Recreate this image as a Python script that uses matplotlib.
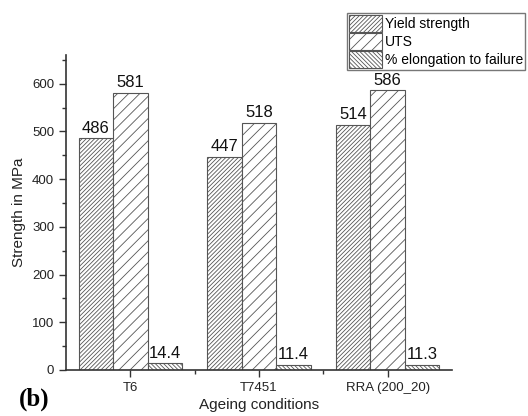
import numpy as np
import matplotlib
matplotlib.use('Agg')
import matplotlib.pyplot as plt
from matplotlib.ticker import MultipleLocator

conditions = ['T6', 'T7451', 'RRA (200_20)']
yield_strength = [486, 447, 514]
uts = [581, 518, 586]
elongation = [14.4, 11.4, 11.3]
series_names = ['Yield strength', 'UTS', '% elongation to failure']
value_labels = [['486', '447', '514'], ['581', '518', '586'], ['14.4', '11.4', '11.3']]

plt.rcParams['font.family'] = ['Liberation Sans', 'DejaVu Sans']
plt.rcParams['hatch.linewidth'] = 0.6
plt.rcParams['hatch.color'] = '#666666'

fig = plt.figure(figsize=(5.28, 4.16), dpi=100)
ax = fig.add_axes([0.125, 0.1106, 0.731, 0.757])

x = np.arange(1, len(conditions) + 1)
w = 0.268
hatches = ['////////', '///', '\\\\\\\\\\\\\\\\']
for i, vals in enumerate([yield_strength, uts, elongation]):
    b = ax.bar(x + (i - 1) * w, vals, w, color='white', edgecolor='#555555',
               hatch=hatches[i], linewidth=0.8, label=series_names[i])
    for rect, lab in zip(b, value_labels[i]):
        ax.text(rect.get_x() + rect.get_width() / 2, rect.get_height() + 5, lab,
                ha='center', va='bottom', fontsize=12, color='#111111')

ax.set_xlim(0.5, 3.5)
ax.set_ylim(0, 660)
ax.set_xticks(x)
ax.set_xticklabels(conditions)
ax.xaxis.set_minor_locator(plt.FixedLocator([1.5, 2.5]))
ax.yaxis.set_major_locator(MultipleLocator(100))
ax.yaxis.set_minor_locator(MultipleLocator(50))
ax.tick_params(axis='both', which='major', labelsize=9.5, length=5, width=1,
               color='#333333', labelcolor='#222222')
ax.tick_params(axis='both', which='minor', length=3, width=1, color='#333333')
for s in ['top', 'right']:
    ax.spines[s].set_visible(False)
for s in ['left', 'bottom']:
    ax.spines[s].set_color('#333333')
    ax.spines[s].set_linewidth(1.2)

ax.set_ylabel('Strength in MPa', fontsize=11, color='#222222')
ax.set_xlabel('Ageing conditions', fontsize=11, color='#222222', labelpad=3)

fig.legend(loc='upper right', bbox_to_anchor=(0.995, 0.969), fontsize=10,
           frameon=True, fancybox=False, edgecolor='#777777', framealpha=1,
           handlelength=2.4, handleheight=1.5, labelspacing=0.08,
           borderpad=0.15, handletextpad=0.2, borderaxespad=0)

fig.text(0.036, 0.025, '(b)', fontsize=18, fontweight='bold',
         family=['Liberation Serif', 'DejaVu Serif'])

fig.savefig('out.png', dpi=100)
